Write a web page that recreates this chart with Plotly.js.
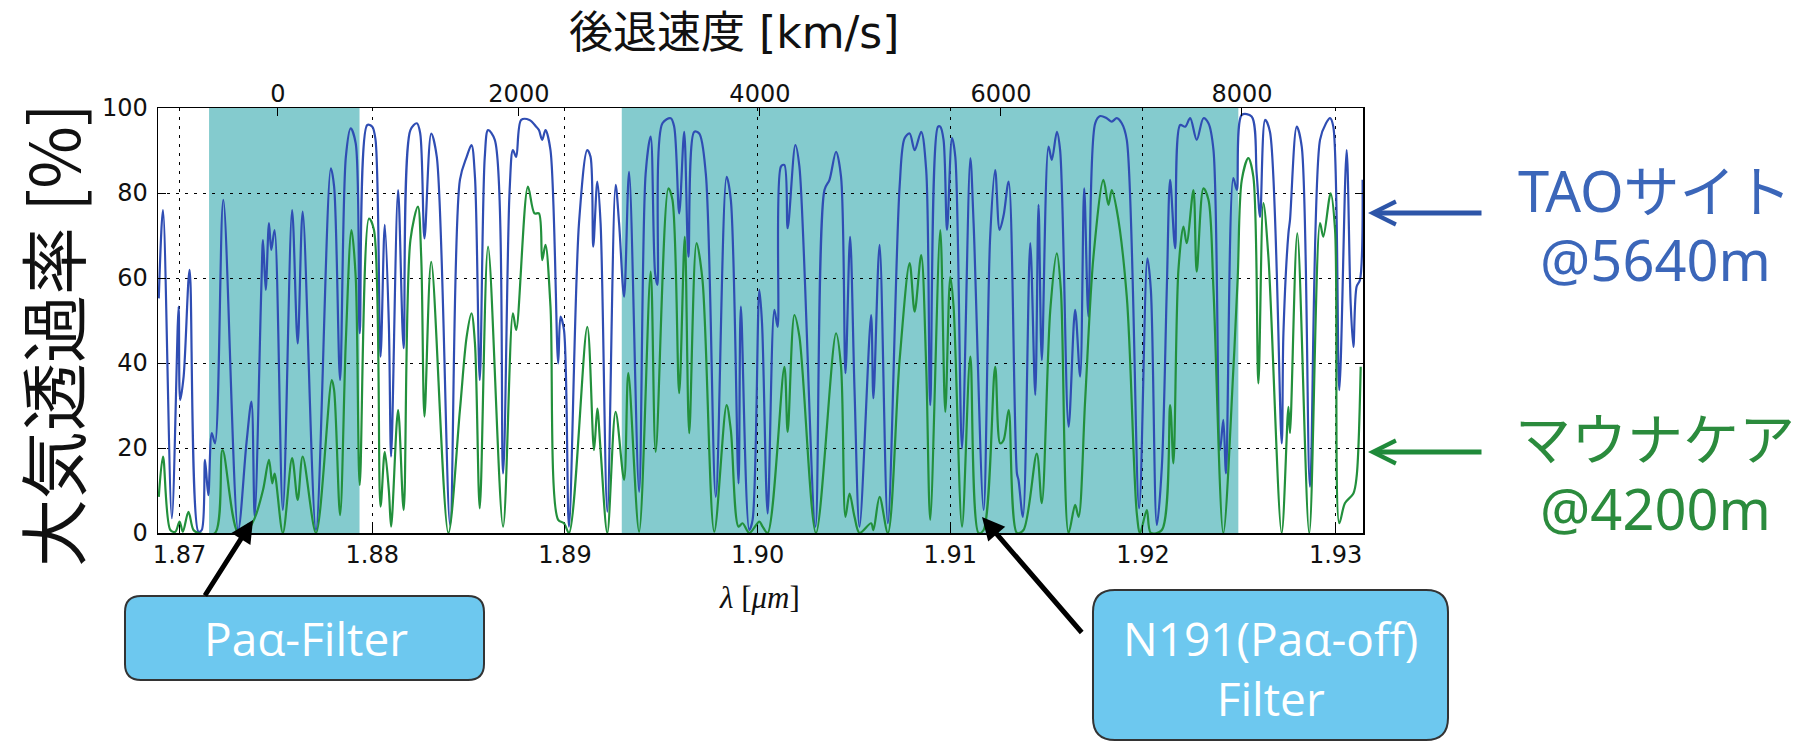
<!DOCTYPE html>
<html>
<head>
<meta charset="utf-8">
<script src="https://cdn.plot.ly/plotly-3.0.1.min.js"></script>
<style>html,body{margin:0;padding:0;background:#fff;}#chart{width:1812px;height:747px;}</style>
</head>
<body>
<div id="chart"></div>
<script>
// ---- data ----
// wavelength [um] and atmospheric transmission [%] at TAO site (5640 m)
const lamTAO = [1.86892,1.86914,1.86960,1.86995,1.87003,1.87021,1.87052,1.87098,1.87115,1.87132,1.87149,1.87167,1.87184,1.87227,1.87304,1.87347,1.87373,1.87390,1.87424,1.87433,1.87447,1.87464,1.87476,1.87493,1.87536,1.87584,1.87613,1.87639,1.87708,1.87785,1.87802,1.87833,1.87863,1.87888,1.87914,1.87935,1.87974,1.88000,1.88017,1.88043,1.88065,1.88086,1.88098,1.88134,1.88163,1.88198,1.88232,1.88249,1.88271,1.88306,1.88335,1.88404,1.88455,1.88490,1.88515,1.88533,1.88558,1.88584,1.88601,1.88636,1.88679,1.88713,1.88730,1.88747,1.88773,1.88816,1.88851,
1.88865,1.88882,1.88899,1.88925,1.88965,1.88977,1.88995,1.89021,1.89073,1.89116,1.89133,1.89147,1.89168,1.89185,1.89220,1.89263,1.89281,1.89307,1.89333,1.89385,1.89419,1.89445,1.89468,1.89480,1.89506,1.89549,1.89567,1.89593,1.89619,1.89641,1.89671,1.89697,1.89731,1.89783,1.89839,1.89861,1.89901,1.89913,1.89957,1.89974,1.90009,1.90023,1.90052,1.90087,1.90104,1.90121,1.90139,1.90156,1.90196,1.90217,1.90300,1.90347,1.90373,1.90407,1.90433,1.90456,1.90480,1.90503,1.90529,1.90589,1.90601,1.90633,1.90676,1.90737,1.90763,1.90789,1.90815,1.90849,1.90875,1.90896,1.90936,
1.90948,1.90965,1.90983,1.91009,1.91026,1.91061,1.91104,1.91121,1.91173,1.91207,1.91233,1.91256,1.91277,1.91303,1.91346,1.91354,1.91377,1.91415,1.91441,1.91458,1.91475,1.91510,1.91527,1.91553,1.91570,1.91614,1.91648,1.91674,1.91695,1.91717,1.91752,1.91778,1.91812,1.91838,1.91864,1.91890,1.91916,1.91980,1.92023,1.92041,1.92072,1.92098,1.92124,1.92141,1.92167,1.92193,1.92219,1.92245,1.92279,1.92314,1.92340,1.92366,1.92400,1.92417,1.92431,1.92469,1.92487,1.92513,1.92564,1.92590,1.92608,1.92634,1.92659,1.92720,1.92729,1.92755,1.92763,1.92798,1.92824,1.92867,1.92919,1.92950,1.92971,1.92988,1.93019,1.93057,1.93078,1.93092,1.93109,1.93126,1.93140];
const tauTAO = [55.2,76.0,3.5,53.3,31.3,36.8,61.9,0.3,0.7,17.2,8.9,23.5,21.1,78.4,0.7,21.1,30.9,3.8,57.2,68.9,57.2,72.9,66.6,71.3,5.4,76.0,44.6,75.6,0.7,85.8,81.5,36.0,88.5,95.2,91.7,47.0,96.0,95.6,92.5,41.5,72.5,49.3,18.0,80.7,43.5,94.8,96.4,94.0,69.3,94.0,88.5,1.9,83.1,88.5,91.3,83.8,36.0,88.5,94.8,92.5,14.0,80.7,90.1,88.5,97.2,97.2,95.6,
94.8,92.5,94.8,90.1,39.9,50.9,47.8,1.5,72.9,90.1,88.5,67.4,82.7,72.9,5.0,81.9,72.9,55.6,85.0,9.7,84.6,93.3,61.1,58.4,96.4,97.6,95.6,75.2,94.4,65.0,94.4,94.0,84.6,8.5,83.8,78.4,11.7,53.3,0.7,3.1,57.2,49.3,4.6,52.5,48.5,86.2,86.6,71.7,91.3,86.2,1.5,80.7,83.1,89.7,83.8,37.6,69.7,33.6,1.5,51.3,31.7,67.8,2.3,81.5,92.9,94.0,90.1,94.4,85.4,30.1,95.6,
95.6,92.5,71.3,92.9,88.5,19.9,88.2,72.9,5.4,69.7,85.4,71.3,74.8,82.7,14.0,12.5,3.8,68.2,32.5,77.2,40.7,90.9,87.8,94.4,90.1,25.0,52.5,36.8,81.1,50.9,96.4,98.1,97.6,96.8,97.6,96.4,92.5,5.8,64.6,57.2,1.9,15.6,58.0,83.1,67.0,96.0,95.6,97.6,92.5,97.6,96.4,90.1,19.5,26.6,14.0,83.5,80.7,98.4,98.0,84.6,74.4,97.2,94.4,21.1,47.0,70.5,73.6,95.6,90.9,10.9,92.5,96.4,97.6,95.6,33.6,90.1,54.0,43.8,58.0,59.5,83.1];

// wavelength [um] and atmospheric transmission [%] at Mauna Kea (4200 m)
const lamMK = [1.86892,1.86914,1.86952,1.86978,1.87000,1.87017,1.87046,1.87072,1.87098,1.87184,1.87223,1.87304,1.87347,1.87390,1.87433,1.87464,1.87481,1.87493,1.87536,1.87584,1.87613,1.87639,1.87708,1.87790,1.87802,1.87833,1.87863,1.87892,1.87914,1.87935,1.87983,1.88009,1.88043,1.88065,1.88086,1.88098,1.88134,1.88163,1.88198,1.88237,1.88254,1.88271,1.88306,1.88395,1.88455,1.88490,1.88515,1.88533,1.88558,1.88601,1.88679,1.88730,1.88747,1.88808,1.88842,
1.88865,1.88882,1.88899,1.88925,1.88965,1.88995,1.89021,1.89116,1.89151,1.89168,1.89185,1.89220,1.89263,1.89307,1.89329,1.89385,1.89445,1.89471,1.89537,1.89558,1.89593,1.89622,1.89645,1.89683,1.89714,1.89775,1.89839,1.89861,1.89901,1.89922,1.89957,1.90009,1.90026,1.90052,1.90139,1.90156,1.90191,1.90217,1.90303,1.90407,1.90433,1.90456,1.90477,1.90503,1.90529,1.90589,1.90601,1.90633,1.90676,1.90737,1.90789,1.90815,1.90849,1.90875,1.90896,
1.90948,1.90974,1.91000,1.91017,1.91061,1.91104,1.91147,1.91173,1.91233,1.91259,1.91277,1.91303,1.91346,1.91380,1.91449,1.91475,1.91519,1.91553,1.91574,1.91614,1.91648,1.91666,1.91700,1.91743,1.91795,1.91821,1.91838,1.91864,1.91916,1.91968,1.91985,1.92020,1.92041,1.92098,1.92141,1.92158,1.92184,1.92210,1.92227,1.92262,1.92279,1.92314,1.92340,1.92366,1.92417,1.92469,1.92492,1.92513,1.92547,1.92573,1.92599,1.92625,1.92651,1.92720,1.92755,1.92763,1.92801,1.92863,1.92919,1.92936,1.92974,1.92997,1.93019,1.93048,1.93092,1.93109,1.93130];
const tauMK = [8.5,18.0,0.7,0.3,2.7,0.3,5.0,0.7,0,0,19.5,0,0.3,3.5,10.1,17.2,11.7,14.0,0,17.6,7.8,18.0,0,36.0,33.6,4.2,45.4,71.3,60.3,11.3,74.0,71.3,6.2,19.1,10.1,1.5,28.9,5.4,68.9,76.8,65.0,27.4,63.8,0,28.9,46.2,51.7,44.6,5.8,67.4,1.5,51.7,47.8,81.5,75.2,
75.2,64.2,67.8,53.3,3.1,2.3,0,48.5,19.5,29.3,19.5,0,28.5,12.5,37.6,0.3,61.5,19.1,81.1,78.4,32.9,69.7,23.5,68.2,59.5,0.3,30.1,24.2,1.5,2.3,0,2.7,1.5,0,39.1,23.8,51.3,46.2,0,47.0,39.1,3.8,9.3,3.8,0,2.3,0.7,8.5,0,40.7,63.5,52.1,65.4,39.1,3.1,
71.3,28.5,60.3,53.3,1.5,41.5,0,0.7,39.1,21.1,21.9,28.9,0,0.7,18.7,7.0,52.5,65.8,57.2,0,6.6,3.8,31.3,65.0,83.1,77.2,80.7,76.0,55.6,4.6,0,5.4,0,0.7,30.1,16.4,61.9,72.1,68.2,80.7,61.5,81.1,78.4,57.2,0,38.4,60.3,83.1,88.2,83.8,35.2,77.6,65.0,0,29.7,23.5,70.5,0,72.9,69.7,79.9,71.3,2.3,7.0,9.3,13.3,39.1];

// filter pass bands [um]
const filterNames = ['Paα-Filter', 'N191(Paα-off)<br>Filter'];
const filterStart = [1.87153, 1.89295];
const filterEnd   = [1.87934, 1.92495];

// axis ticks
const lamTicks = [1.87, 1.88, 1.89, 1.90, 1.91, 1.92, 1.93];
const lamTickText = ['1.87', '1.88', '1.89', '1.90', '1.91', '1.92', '1.93'];
const velTicks = [0, 2000, 4000, 6000, 8000];
const yTicks = [0, 20, 40, 60, 80, 100];

const siteNames = ['TAOサイト', '@5640m', 'マウナケア', '@4200m'];
const lamRange = [1.86888, 1.93142];
const lamPaA = 1.87510;          // Pa-alpha rest wavelength [um]
const cLight = 299792.458;       // km/s

// ---- layout helpers (pixel -> paper) ----
const L = 158, R = 1363, T = 108, B = 533;
const W = R - L, H = B - T;
const px = x => (x - L) / W;
const py = y => (B - y) / H;

function roundRect(x0, y0, x1, y1, r) {
  const P = (x, y) => px(x).toFixed(5) + ',' + py(y).toFixed(5);
  return 'M' + P(x0 + r, y0) + ' L' + P(x1 - r, y0) + ' Q' + P(x1, y0) + ' ' + P(x1, y0 + r) +
         ' L' + P(x1, y1 - r) + ' Q' + P(x1, y1) + ' ' + P(x1 - r, y1) +
         ' L' + P(x0 + r, y1) + ' Q' + P(x0, y1) + ' ' + P(x0, y1 - r) +
         ' L' + P(x0, y0 + r) + ' Q' + P(x0, y0) + ' ' + P(x0 + r, y0) + ' Z';
}

const velRange = lamRange.map(l => cLight * (l / lamPaA - 1));

const BLUE = '#2F4DB3', GREEN = '#22903C';
const BLUE_TXT = '#3B66B9', GREEN_TXT = '#2B8B3D';
const tickFont = {family: 'DejaVu Sans, Noto Sans', size: 24, color: '#111'};

const traces = [
  {x: lamTAO, y: tauTAO, type: 'scatter', mode: 'lines', name: 'TAO',
   line: {color: BLUE, width: 2.2, shape: 'spline', smoothing: 0.9}, hoverinfo: 'skip'},
  {x: lamMK, y: tauMK, type: 'scatter', mode: 'lines', name: 'Mauna Kea',
   line: {color: GREEN, width: 2.2, shape: 'spline', smoothing: 0.9}, hoverinfo: 'skip'},
  // empty trace that carries the top (recession velocity) axis
  {x: [], y: [], type: 'scatter', mode: 'lines', xaxis: 'x2', yaxis: 'y', hoverinfo: 'skip', showlegend: false}
];

const shapes = [];
for (let i = 0; i < filterStart.length; i++) {
  shapes.push({type: 'rect', xref: 'x', yref: 'paper', x0: filterStart[i], x1: filterEnd[i], y0: 0, y1: 1,
               fillcolor: '#84CBCE', line: {width: 0}, layer: 'below'});
}
shapes.push({type: 'path', xref: 'paper', yref: 'paper', path: roundRect(125, 596, 484, 680, 16),
             fillcolor: '#6DC8EF', line: {color: '#333', width: 2}});
shapes.push({type: 'path', xref: 'paper', yref: 'paper', path: roundRect(1093, 590, 1448, 740, 22),
             fillcolor: '#6DC8EF', line: {color: '#333', width: 2}});

const ann = [];
ann.push({text: '後退速度 [km/s]', xref: 'paper', yref: 'paper', x: px(734), y: py(33), showarrow: false,
          xanchor: 'center', yanchor: 'middle', font: {family: 'DejaVu Sans, Noto Sans CJK JP', size: 44, color: '#111'}});
ann.push({text: '大気透過率 [%]', xref: 'paper', yref: 'paper', x: px(50), y: py(335), showarrow: false, textangle: -90,
          xanchor: 'center', yanchor: 'middle', font: {family: 'Noto Sans CJK JP', size: 68, color: '#111'}});
ann.push({text: '<i>λ</i> [<i>μm</i>]', xref: 'paper', yref: 'paper', x: px(759), y: py(597), showarrow: false,
          xanchor: 'center', yanchor: 'middle', font: {family: 'Liberation Serif, DejaVu Serif', size: 31, color: '#111'}});
const siteY = [190, 259, 438, 508];
const siteCol = [BLUE_TXT, BLUE_TXT, GREEN_TXT, GREEN_TXT];
siteNames.forEach((s, i) => ann.push({text: s, xref: 'paper', yref: 'paper', x: px(1655), y: py(siteY[i]), showarrow: false,
          xanchor: 'center', yanchor: 'middle', font: {family: 'Noto Sans, Noto Sans CJK JP', size: 56, color: siteCol[i]}}));
// side arrows (open chevron heads)
ann.push({text: '', xref: 'paper', yref: 'paper', x: px(1368), y: py(213), ax: 115, ay: 0, showarrow: true,
          arrowhead: 5, arrowsize: 0.9, arrowwidth: 5, arrowcolor: '#2D55A8', standoff: 0});
ann.push({text: '', xref: 'paper', yref: 'paper', x: px(1368), y: py(452), ax: 115, ay: 0, showarrow: true,
          arrowhead: 5, arrowsize: 0.9, arrowwidth: 5, arrowcolor: '#1F8A3A', standoff: 0});
// filter arrows
ann.push({text: '', xref: 'paper', yref: 'paper', x: px(253), y: py(520), ax: -49, ay: 77, showarrow: true,
          arrowhead: 2, arrowsize: 0.9, arrowwidth: 5, arrowcolor: '#000', standoff: 0});
ann.push({text: '', xref: 'paper', yref: 'paper', x: px(982), y: py(517), ax: 101, ay: 117, showarrow: true,
          arrowhead: 2, arrowsize: 0.9, arrowwidth: 5, arrowcolor: '#000', standoff: 0});
// filter box labels
ann.push({text: filterNames[0], xref: 'paper', yref: 'paper', x: px(306), y: py(638), showarrow: false,
          xanchor: 'center', yanchor: 'middle', font: {family: 'Open Sans, Noto Sans', size: 46, color: '#fff'}});
ann.push({text: filterNames[1], xref: 'paper', yref: 'paper', x: px(1270), y: py(668), showarrow: false,
          xanchor: 'center', yanchor: 'middle', font: {family: 'Open Sans, Noto Sans', size: 46, color: '#fff'}});

const layout = {
  width: 1812, height: 747,
  margin: {l: L, r: 1812 - R, t: T, b: 747 - B, pad: 0},
  paper_bgcolor: '#fff', plot_bgcolor: '#fff',
  showlegend: false,
  xaxis: {range: lamRange, tickvals: lamTicks, ticktext: lamTickText, ticks: 'inside', ticklen: 8,
          tickcolor: '#000', showline: true, linecolor: '#000', linewidth: 1.5, mirror: true,
          showgrid: true, gridcolor: '#000', griddash: '3px,6px', gridwidth: 1, zeroline: false,
          tickfont: tickFont},
  xaxis2: {overlaying: 'x', side: 'top', anchor: 'y', range: velRange, tickvals: velTicks,
           ticks: 'inside', ticklen: 8, tickcolor: '#000', showgrid: false, showline: false, zeroline: false,
           tickfont: tickFont, autorange: false},
  yaxis: {range: [0, 100], tickvals: yTicks, ticks: 'inside', ticklen: 8, tickcolor: '#000',
          showline: true, linecolor: '#000', linewidth: 1.5, mirror: 'ticks',
          showgrid: true, gridcolor: '#000', griddash: '3px,6px', gridwidth: 1, zeroline: false,
          tickfont: tickFont, ticklabelstandoff: 4},
  shapes: shapes,
  annotations: ann
};

Plotly.newPlot('chart', traces, layout, {displayModeBar: false, staticPlot: true});
</script>
</body>
</html>
